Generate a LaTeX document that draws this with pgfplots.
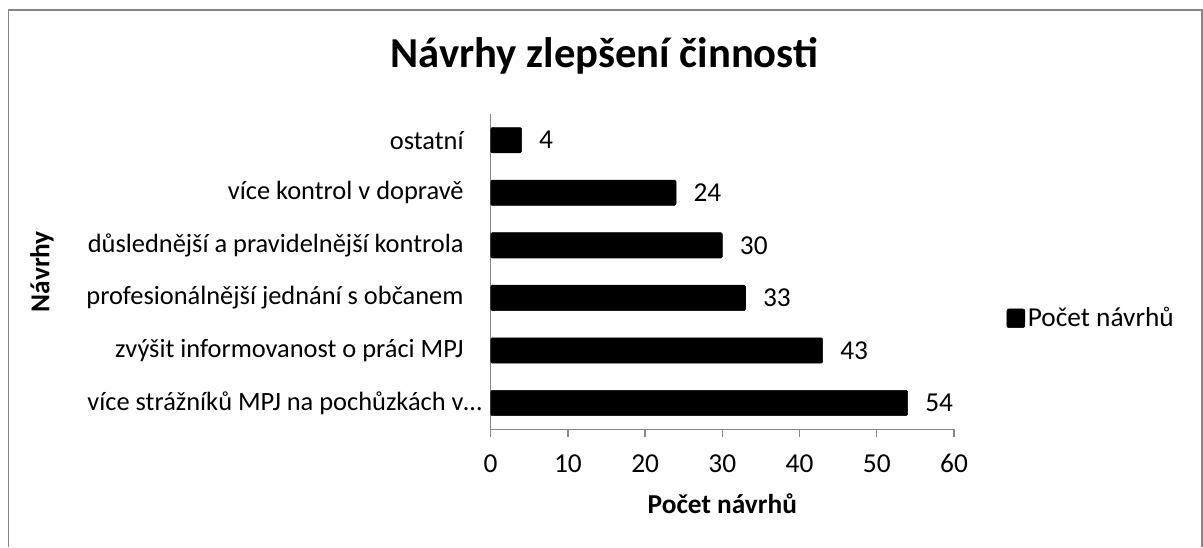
\documentclass[border=0pt]{standalone}
\usepackage{fontspec}
\setmainfont{Carlito}
\usepackage{pgfplots}
\pgfplotsset{compat=1.18}
\definecolor{axgray}{RGB}{134,134,134}

\begin{document}
\begin{tikzpicture}
% page = 1203 x 547 px, 1 px = 0.75 pt
\useasboundingbox (0,0) rectangle (902.25pt,410.25pt);
\draw[axgray, line width=1.1pt] (6.2pt,0pt) -- (6.2pt,402.75pt) -- (901.5pt,402.75pt) -- (901.5pt,0pt);

\node[anchor=base, font=\fontsize{32}{38}\selectfont\bfseries] at (453.4pt,359.5pt) {Návrhy zlepšení činnosti};

\begin{axis}[
    at={(368pt,88.3pt)}, anchor=south west,
    scale only axis,
    width=347.5pt, height=236.5pt,
    xbar, bar width=19pt,
    xmin=0, xmax=60,
    ymin=-0.5, ymax=5.5,
    xtick={0,10,...,60},
    ytick={0,1,2,3,4,5},
    yticklabels={více strážníků MPJ na pochůzkách v\rlap{\dots},
                 zvýšit informovanost o práci MPJ,
                 profesionálnější jednání s občanem,
                 důslednější a pravidelnější kontrola,
                 více kontrol v dopravě,
                 ostatní},
    axis x line*=bottom, axis y line*=left,
    axis line style={axgray, line width=1pt},
    tick align=outside,
    major tick length=5.6pt,
    xtick style={axgray, line width=1pt},
    ytick style={draw=none},
    /pgf/number format/assume math mode=true,
    ticklabel style={font=\fontsize{20.5}{24}\selectfont},
    yticklabel style={anchor=east, inner sep=0pt, xshift=-14.5pt, font=\fontsize{19.8}{24}\selectfont},
    xticklabel style={anchor=center, inner sep=0pt, yshift=-20pt},
    xlabel={Počet návrhů},
    ylabel={Návrhy},
    label style={font=\fontsize{20.5}{24}\selectfont\bfseries},
    xlabel style={at={(axis description cs:0.5,0)}, anchor=base, yshift=-62.8pt},
    ylabel style={at={(axis description cs:-0.9685,0.5)}, anchor=center},
    nodes near coords,
    nodes near coords style={anchor=west, inner sep=0pt, xshift=13pt, font=\fontsize{20.5}{24}\selectfont},
    legend style={at={(axis description cs:1.113,0.352)}, anchor=west, draw=none, fill=none,
                  inner sep=0pt, font=\fontsize{20.5}{24}\selectfont},
    legend image code/.code={\fill[black, rounded corners=1.5pt] (0pt,-7pt) rectangle (13.5pt,7pt);},
]
\addplot[fill=black, draw=black, rounded corners=1pt] coordinates {
    (54,0) (43,1) (33,2) (30,3) (24,4) (4,5)
};
\addlegendentry{Počet návrhů}
\end{axis}
\end{tikzpicture}
\end{document}
